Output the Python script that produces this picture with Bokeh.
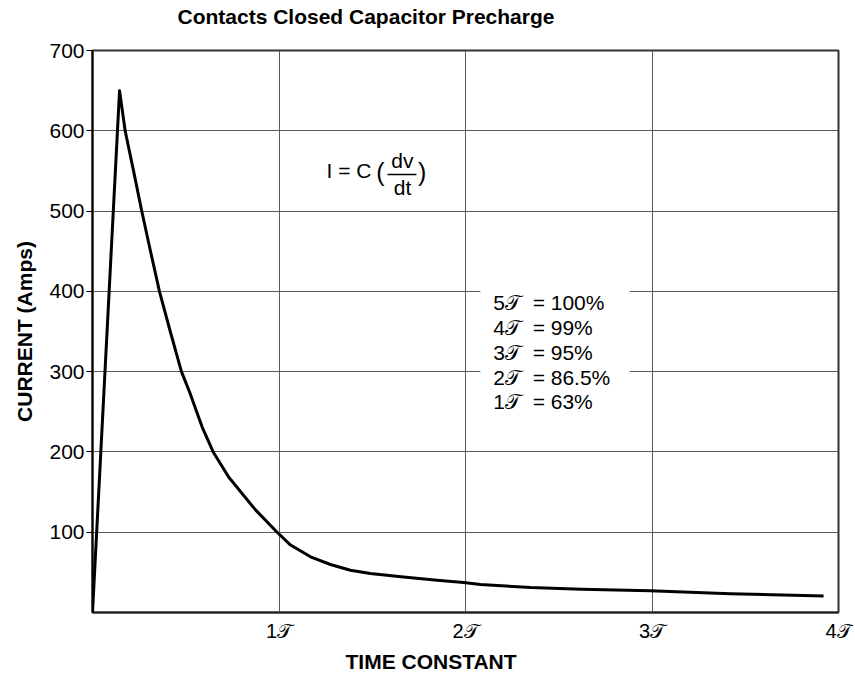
from bokeh.plotting import figure
from bokeh.models import (Range1d, FixedTicker, Label, BoxAnnotation, Title)
from bokeh.embed import file_html
from bokeh.resources import INLINE

# ---- data ----
time_constant = [0.0, 0.145, 0.175, 0.22, 0.264, 0.311, 0.359, 0.417, 0.477, 0.522, 0.588,
                 0.647, 0.731, 0.874, 0.99, 1.062, 1.169, 1.276, 1.383, 1.49, 1.668,
                 1.848, 1.99, 2.08, 2.35, 2.62, 2.99, 3.42, 3.92]
current_amps = [0, 650, 600, 550, 500, 450, 400, 350, 300, 273.7, 231,
                200, 168.5, 127.8, 100, 84, 69.4, 59.8, 52.7, 48.5, 44.3,
                40.1, 37.3, 35, 31, 29, 27, 23.5, 20.5]

y_ticks = [100, 200, 300, 400, 500, 600, 700]
x_ticks = [1, 2, 3, 4]
x_tick_labels = ["1\U0001D4AF", "2\U0001D4AF", "3\U0001D4AF", "4\U0001D4AF"]
charge_lines = ["5\U0001D4AF\u00a0\u00a0= 100%", "4\U0001D4AF\u00a0\u00a0= 99%",
                "3\U0001D4AF\u00a0\u00a0= 95%", "2\U0001D4AF\u00a0\u00a0= 86.5%",
                "1\U0001D4AF\u00a0\u00a0= 63%"]
chart_title = "Contacts Closed Capacitor Precharge"

FONT = "Liberation Sans"

p = figure(frame_width=746, frame_height=562, output_backend="svg", toolbar_location=None,
           x_range=Range1d(0, 4), y_range=Range1d(0, 700),
           min_border_left=92, min_border_right=15, min_border_top=50, min_border_bottom=60)

# spacer between the frame and the title, then the title itself
p.title = None
p.add_layout(Title(text=" ", text_font=FONT, text_font_size="1px", standoff=20), "above")
p.add_layout(Title(text=chart_title, align="left", offset=85, standoff=0,
                   text_font=FONT, text_font_size="21px", text_font_style="bold",
                   text_color="black"), "above")

p.add_layout(Title(text="TIME CONSTANT", align="left", offset=253, standoff=7,
                   text_font=FONT, text_font_size="21px", text_font_style="bold",
                   text_color="black"), "below")

p.outline_line_color = "#333333"
p.outline_line_width = 2

# axes
p.xaxis.ticker = FixedTicker(ticks=x_ticks)
p.xaxis.major_label_overrides = {t: l for t, l in zip(x_ticks, x_tick_labels)}
p.xaxis.major_tick_line_color = None
p.xaxis.minor_tick_line_color = None
p.xaxis.axis_line_color = "#222222"
p.xaxis.axis_line_width = 2
p.xaxis.major_label_text_font = FONT
p.xaxis.major_label_text_font_size = "20px"
p.xaxis.major_label_text_color = "black"
p.xaxis.major_label_standoff = 1

p.yaxis.ticker = FixedTicker(ticks=y_ticks)
p.yaxis.minor_tick_line_color = None
p.yaxis.major_tick_out = 6
p.yaxis.major_tick_in = 0
p.yaxis.major_tick_line_color = "black"
p.yaxis.axis_line_color = "black"
p.yaxis.axis_line_width = 2
p.yaxis.major_label_text_font = FONT
p.yaxis.major_label_text_font_size = "21px"
p.yaxis.major_label_text_color = "black"
p.yaxis.major_label_standoff = 2
p.yaxis.axis_label = "CURRENT (Amps)"
p.yaxis.axis_label_text_font = FONT
p.yaxis.axis_label_text_font_size = "21px"
p.yaxis.axis_label_text_font_style = "bold"
p.yaxis.axis_label_text_color = "black"
p.yaxis.axis_label_standoff = 10

p.xgrid.ticker = FixedTicker(ticks=x_ticks)
p.ygrid.ticker = FixedTicker(ticks=y_ticks)
for g in (p.xgrid, p.ygrid):
    g.grid_line_color = "#5a5a5a"
    g.grid_line_width = 1

# curve
p.line(time_constant, current_amps, line_color="black", line_width=3,
       line_join="round")

# equation I = C (dv/dt)
eq_style = dict(text_font=FONT, text_color="black", text_baseline="middle")
p.add_layout(Label(x=1.255, y=550.4, text="I = C", text_align="left",
                   text_font_size="21px", **eq_style))
p.add_layout(Label(x=1.544, y=548.7, text="(", text_align="center",
                   text_font_size="25px", **eq_style))
p.add_layout(Label(x=1.767, y=548.7, text=")", text_align="center",
                   text_font_size="25px", **eq_style))
p.add_layout(Label(x=1.662, y=562.5, text="dv", text_align="center",
                   text_font_size="21px", **eq_style))
p.add_layout(Label(x=1.662, y=529.6, text="dt", text_align="center",
                   text_font_size="21px", **eq_style))
p.add_layout(BoxAnnotation(left=1.582, right=1.737, bottom=544.6, top=546.4,
                           fill_color="black", fill_alpha=1, line_color=None))

# charge percentage table (white box interrupts grid)
p.add_layout(BoxAnnotation(left=2.08, right=2.88, bottom=245, top=407,
                           fill_color="white", fill_alpha=1, line_color=None,
                           level="underlay"))
row_centers = [385.5, 354.4, 323.8, 293.3, 263.4]
for txt, yc in zip(charge_lines, row_centers):
    p.add_layout(Label(x=2.149, y=yc, text=txt, text_align="left",
                       text_font_size="21px", **eq_style))

open("out.html", "w").write(file_html(p, INLINE))
